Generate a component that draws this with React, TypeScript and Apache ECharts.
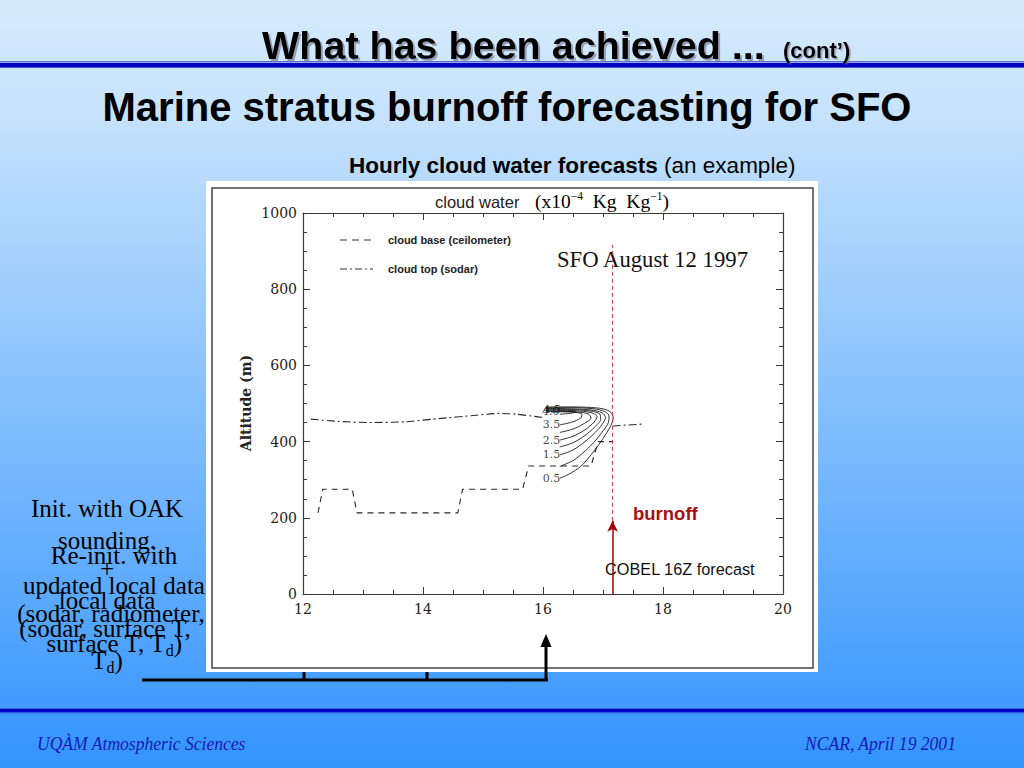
import React, { useEffect, useRef } from "react";
import * as echarts from "echarts";

// ---- axis ranges / ticks ----
const hourMin = 12;
const hourMax = 20;
const hourInterval = 2;
const altMin = 0;
const altMax = 1000;
const altInterval = 200;

// ---- cloud base (ceilometer), dashed ----
const cloudBaseHours = [12.25, 12.33, 12.82, 12.9, 14.58, 14.66, 15.66, 15.76, 16.8, 16.92, 17.16];
const cloudBaseAlts = [213, 275, 275, 213, 213, 275, 275, 336, 336, 400, 400];

// ---- cloud top (sodar), dash-dot, two visible pieces ----
const cloudTopHoursA = [12.13, 12.6, 13.1, 13.7, 14.3, 14.8, 15.27, 15.55, 15.92, 16.02];
const cloudTopAltsA = [459, 453, 450, 452, 461, 468, 474, 472, 465, 463];
const cloudTopHoursB = [17.16, 17.65];
const cloudTopAltsB = [441, 446];

// ---- cloud water contours (x10^-4 kg/kg) ----
const contourLevels = ["0.5", "1.0", "1.5", "2.0", "2.5", "3.0", "3.5", "4.0"];
const contourHours = [
  [16.28, 16.45, 16.63, 16.8, 16.93, 17.05, 17.13, 17.17, 17.13, 17.0, 16.75, 16.4, 16.05],
  [16.28, 16.5, 16.7, 16.87, 17.0, 17.09, 17.1, 17.03, 16.85, 16.5, 16.05],
  [16.28, 16.5, 16.7, 16.87, 16.99, 17.04, 16.98, 16.8, 16.5, 16.05],
  [16.28, 16.5, 16.7, 16.86, 16.96, 16.95, 16.8, 16.5, 16.05],
  [16.28, 16.5, 16.7, 16.85, 16.9, 16.8, 16.55, 16.05],
  [16.28, 16.5, 16.68, 16.8, 16.75, 16.55, 16.05],
  [16.28, 16.48, 16.63, 16.65, 16.5, 16.05],
  [16.28, 16.45, 16.55, 16.4, 16.28],
];
const contourAlts = [
  [304, 316, 335, 365, 392, 420, 442, 462, 477, 486, 490, 491, 491],
  [335, 350, 375, 402, 428, 450, 467, 479, 486, 489, 489],
  [365, 378, 400, 424, 446, 463, 476, 483, 486, 487],
  [386, 397, 416, 438, 458, 472, 480, 484, 485],
  [404, 414, 431, 451, 466, 476, 481, 483],
  [424, 433, 447, 462, 473, 478, 481],
  [444, 451, 462, 472, 477, 479],
  [472, 474, 478, 480, 481],
];
const contourLabelTexts = ["0.5", "1.5", "2.5", "3.5", "4.0", "4.5"];
const contourLabelHours = [16.14, 16.14, 16.14, 16.14, 16.13, 16.15];
const contourLabelAlts = [304, 365, 404, 444, 479, 485];

// ---- burnoff marker ----
const burnoffHour = 17.16;
const burnoffArrowAlts = [0, 192];
const burnoffDashAlts = [192, 916];

const zip = (xs: number[], ys: number[]) => xs.map((x, i) => [x, ys[i]]);

const serif = "'Liberation Serif', 'Times New Roman', serif";
const sans = "'Liberation Sans', Arial, sans-serif";
const axisFont = "'DejaVu Serif', serif";

function axisCommon(showLabel: boolean) {
  return {
    axisLine: { show: true, onZero: false, lineStyle: { color: "#3a3a3a", width: 1.2 } },
    axisTick: { show: true, inside: true, length: 7, lineStyle: { color: "#3a3a3a", width: 1 } },
    minorTick: { show: true, splitNumber: 4, length: 4, lineStyle: { color: "#3a3a3a", width: 1 } },
    splitLine: { show: false },
    minorSplitLine: { show: false },
    axisLabel: {
      show: showLabel,
      fontFamily: axisFont,
      fontSize: 14,
      color: "#222",
      formatter: (v: number) => String(v),
    },
  };
}

function buildOption() {
  const leftTextNormal = { fontSize: 25, fontFamily: serif, lineHeight: 30, fill: "#000" };
  const richTd = {
    n: { fontSize: 25, fontFamily: serif, lineHeight: 30, color: "#000" },
    s: { fontSize: 16, fontFamily: serif, lineHeight: 10, verticalAlign: "bottom", color: "#000" },
  };
  const mkText = (text: string, x: number, y: number, extra: any = {}) => ({
    type: "text",
    x,
    y,
    z: 20,
    style: {
      text,
      textAlign: "center",
      textVerticalAlign: "middle",
      ...leftTextNormal,
      ...extra,
    },
  });

  const graphic: any[] = [
    // header lines
    { type: "rect", shape: { x: 0, y: 61, width: 1024, height: 1.5 }, style: { fill: "#5a6cc4" }, z: 1 },
    { type: "rect", shape: { x: 0, y: 63, width: 1024, height: 4 }, style: { fill: "#0000c0" }, z: 1 },
    { type: "rect", shape: { x: 0, y: 67, width: 1024, height: 1 }, style: { fill: "#4a5cd0" }, z: 1 },
    // footer lines
    { type: "rect", shape: { x: 0, y: 708, width: 1024, height: 1 }, style: { fill: "#3a66e0" }, z: 1 },
    { type: "rect", shape: { x: 0, y: 709, width: 1024, height: 3.5 }, style: { fill: "#0000c8" }, z: 1 },
    { type: "rect", shape: { x: 0, y: 712.5, width: 1024, height: 1 }, style: { fill: "#3a66e0" }, z: 1 },
    // titles
    {
      type: "text",
      x: 262,
      y: 45,
      z: 5,
      style: {
        text: "What has been achieved ...",
        fontFamily: sans,
        fontWeight: "bold",
        fontSize: 39.5,
        fill: "#000",
        textVerticalAlign: "middle",
        textShadowColor: "rgba(110,110,130,0.6)",
        textShadowOffsetX: 2,
        textShadowOffsetY: 2,
        textShadowBlur: 1,
      },
    },
    {
      type: "text",
      x: 783,
      y: 50,
      z: 5,
      style: {
        text: "(cont’)",
        fontFamily: sans,
        fontWeight: "bold",
        fontSize: 22,
        fill: "#000",
        textVerticalAlign: "middle",
        textShadowColor: "rgba(110,110,130,0.6)",
        textShadowOffsetX: 1.5,
        textShadowOffsetY: 1.5,
        textShadowBlur: 1,
      },
    },
    {
      type: "text",
      x: 507,
      y: 107,
      z: 5,
      style: {
        text: "Marine stratus burnoff forecasting for SFO",
        fontFamily: sans,
        fontWeight: "bold",
        fontSize: 40,
        fill: "#000",
        textAlign: "center",
        textVerticalAlign: "middle",
      },
    },
    {
      type: "text",
      x: 349,
      y: 165,
      z: 5,
      style: {
        text: "{b|Hourly cloud water forecasts}{n| (an example)}",
        textVerticalAlign: "middle",
        rich: {
          b: { fontFamily: sans, fontWeight: "bold", fontSize: 22.5, color: "#000" },
          n: { fontFamily: sans, fontSize: 22.5, color: "#000" },
        },
      },
    },
    // chart white box + frame
    { type: "rect", shape: { x: 206, y: 181, width: 612, height: 491 }, style: { fill: "#ffffff" }, z: -1 },
    {
      type: "rect",
      shape: { x: 212, y: 188, width: 601, height: 480 },
      style: { fill: "none", stroke: "#444", lineWidth: 1.5 },
      z: -1,
    },
    // chart title
    {
      type: "text",
      x: 435,
      y: 202,
      z: 5,
      style: { text: "cloud water", fontFamily: sans, fontSize: 16.5, fill: "#222", textVerticalAlign: "middle" },
    },
    {
      type: "text",
      x: 535,
      y: 201,
      z: 5,
      style: {
        text: "{a|(x10}{p|−4}{a|  Kg  Kg}{p|−1}{a|)}",
        textVerticalAlign: "middle",
        rich: {
          a: { fontFamily: serif, fontSize: 19.5, color: "#222", lineHeight: 22 },
          p: { fontFamily: serif, fontSize: 11.5, color: "#222", lineHeight: 22, verticalAlign: "top", padding: [0, 0, 8, 0] },
        },
      },
    },
    // legend
    {
      type: "line",
      shape: { x1: 340, y1: 240, x2: 373, y2: 240 },
      style: { stroke: "#333", lineWidth: 1.1, lineDash: [7, 5] },
      z: 5,
    },
    {
      type: "text",
      x: 388,
      y: 240,
      z: 5,
      style: { text: "cloud base (ceilometer)", fontFamily: sans, fontWeight: "bold", fontSize: 11, fill: "#222", textVerticalAlign: "middle" },
    },
    {
      type: "line",
      shape: { x1: 340, y1: 269, x2: 373, y2: 269 },
      style: { stroke: "#333", lineWidth: 1.1, lineDash: [7, 3, 2, 3] },
      z: 5,
    },
    {
      type: "text",
      x: 388,
      y: 269,
      z: 5,
      style: { text: "cloud top (sodar)", fontFamily: sans, fontWeight: "bold", fontSize: 11, fill: "#222", textVerticalAlign: "middle" },
    },
    // annotations in plot
    {
      type: "text",
      x: 557,
      y: 259,
      z: 5,
      style: { text: "SFO August 12 1997", fontFamily: serif, fontSize: 22.7, fill: "#111", textVerticalAlign: "middle" },
    },
    {
      type: "text",
      x: 633,
      y: 513,
      z: 5,
      style: { text: "burnoff", fontFamily: sans, fontWeight: "bold", fontSize: 18.5, fill: "#a51010", textVerticalAlign: "middle" },
    },
    {
      type: "text",
      x: 605,
      y: 569,
      z: 5,
      style: { text: "COBEL 16Z forecast", fontFamily: sans, fontSize: 16.3, fill: "#111", textVerticalAlign: "middle" },
    },
    {
      type: "text",
      x: 246,
      y: 403,
      z: 5,
      rotation: Math.PI / 2,
      style: {
        text: "Altitude (m)",
        fontFamily: axisFont,
        fontWeight: "bold",
        fontSize: 14,
        fill: "#222",
        textAlign: "center",
        textVerticalAlign: "middle",
      },
    },
    // left texts (overlapping, as in the slide)
    mkText("Init. with OAK", 107, 508),
    mkText("sounding.", 107, 540),
    mkText("+", 107, 568),
    mkText("local data", 107, 600),
    mkText("(sodar, surface T,", 105, 628),
    {
      type: "text",
      x: 107,
      y: 660,
      z: 20,
      style: { text: "{n|T}{s|d}{n|)}", textAlign: "center", textVerticalAlign: "middle", rich: richTd },
    },
    mkText("Re-init. with", 114, 555),
    mkText("updated local data", 114, 585),
    mkText("(sodar, radiometer,", 111, 613),
    {
      type: "text",
      x: 114,
      y: 643,
      z: 20,
      style: { text: "{n|surface T, T}{s|d}{n|)}", textAlign: "center", textVerticalAlign: "middle", rich: richTd },
    },
    // bottom black arrows
    { type: "line", shape: { x1: 142, y1: 680, x2: 548, y2: 680 }, style: { stroke: "#000", lineWidth: 3 }, z: 6 },
    { type: "line", shape: { x1: 304, y1: 672, x2: 304, y2: 681 }, style: { stroke: "#000", lineWidth: 3 }, z: 6 },
    { type: "line", shape: { x1: 427, y1: 672, x2: 427, y2: 681 }, style: { stroke: "#000", lineWidth: 3 }, z: 6 },
    { type: "line", shape: { x1: 546, y1: 681, x2: 546, y2: 645 }, style: { stroke: "#000", lineWidth: 3 }, z: 6 },
    {
      type: "polygon",
      shape: { points: [[540.5, 647], [546, 634], [551.5, 647]] },
      style: { fill: "#000" },
      z: 6,
    },
    // footer
    {
      type: "text",
      x: 37,
      y: 744,
      z: 5,
      scaleX: 0.95,
      style: {
        text: "UQÀM Atmospheric Sciences",
        fontFamily: serif,
        fontStyle: "italic",
        fontSize: 18.5,
        fill: "#1717b8",
        textVerticalAlign: "middle",
      },
    },
    {
      type: "text",
      x: 805,
      y: 744,
      z: 5,
      scaleX: 0.95,
      style: {
        text: "NCAR, April 19 2001",
        fontFamily: serif,
        fontStyle: "italic",
        fontSize: 18.5,
        fill: "#1717b8",
        textVerticalAlign: "middle",
      },
    },
  ];

  const series: any[] = [
    {
      type: "line",
      name: "cloud base (ceilometer)",
      data: zip(cloudBaseHours, cloudBaseAlts),
      symbol: "none",
      lineStyle: { color: "#2a2a2a", width: 1.1, type: [6, 5] },
      z: 3,
    },
    {
      type: "line",
      name: "cloud top (sodar)",
      data: zip(cloudTopHoursA, cloudTopAltsA),
      symbol: "none",
      smooth: 0.2,
      lineStyle: { color: "#2a2a2a", width: 1.1, type: [8, 3, 2, 3] },
      z: 3,
    },
    {
      type: "line",
      name: "cloud top (sodar) b",
      data: zip(cloudTopHoursB, cloudTopAltsB),
      symbol: "none",
      lineStyle: { color: "#2a2a2a", width: 1.1, type: [8, 3, 2, 3] },
      z: 3,
    },
    ...contourHours.map((hs, i) => ({
      type: "line",
      name: "contour " + contourLevels[i],
      data: zip(hs, contourAlts[i]),
      symbol: "none",
      smooth: 0.3,
      lineStyle: { color: "#1a1a1a", width: 0.9 },
      z: 4,
    })),
    {
      type: "scatter",
      name: "contour labels",
      symbolSize: 0,
      data: contourLabelHours.map((h, i) => ({
        value: [h, contourLabelAlts[i]],
        label: { formatter: contourLabelTexts[i] },
      })),
      label: {
        show: true,
        position: "inside",
        fontFamily: axisFont,
        fontSize: 11,
        color: "#111",
      },
      z: 5,
    },
    {
      type: "line",
      name: "burnoff",
      data: [
        [burnoffHour, burnoffDashAlts[0]],
        [burnoffHour, burnoffDashAlts[1]],
      ],
      symbol: "none",
      lineStyle: { color: "#c43a3a", width: 1, type: [4, 3] },
      z: 6,
      markLine: {
        silent: true,
        symbol: ["none", "arrow"],
        symbolSize: [8, 11],
        label: { show: false },
        lineStyle: { color: "#a00000", width: 1.5, type: "solid" },
        data: [
          [
            { coord: [burnoffHour, burnoffArrowAlts[0]] },
            { coord: [burnoffHour, burnoffArrowAlts[1]] },
          ],
        ],
      },
    },
  ];

  return {
    animation: false,
    backgroundColor: {
      type: "linear",
      x: 0,
      y: 0,
      x2: 0,
      y2: 1,
      colorStops: [
        { offset: 0, color: "#d6ebfd" },
        { offset: 0.15, color: "#c6e2fc" },
        { offset: 1, color: "#3394fd" },
      ],
    },
    grid: { left: 303, top: 213, width: 480, height: 381, containLabel: false, show: false },
    xAxis: [
      {
        type: "value",
        min: hourMin,
        max: hourMax,
        interval: hourInterval,
        position: "bottom",
        ...axisCommon(true),
        axisLabel: { ...axisCommon(true).axisLabel, margin: 8 },
      },
      {
        type: "value",
        min: hourMin,
        max: hourMax,
        interval: hourInterval,
        position: "top",
        ...axisCommon(false),
      },
    ],
    yAxis: [
      {
        type: "value",
        min: altMin,
        max: altMax,
        interval: altInterval,
        position: "left",
        ...axisCommon(true),
        axisLabel: { ...axisCommon(true).axisLabel, margin: 6 },
      },
      {
        type: "value",
        min: altMin,
        max: altMax,
        interval: altInterval,
        position: "right",
        ...axisCommon(false),
      },
    ],
    graphic,
    series,
  };
}

export default function App() {
  const ref = useRef<HTMLDivElement>(null);
  useEffect(() => {
    if (!ref.current) return;
    const chart = echarts.init(ref.current, undefined, { renderer: "svg" });
    chart.setOption(buildOption() as any);
    return () => chart.dispose();
  }, []);
  return (
    <div
      ref={ref}
      style={{ position: "absolute", left: 0, top: 0, width: 1024, height: 768 }}
    />
  );
}
